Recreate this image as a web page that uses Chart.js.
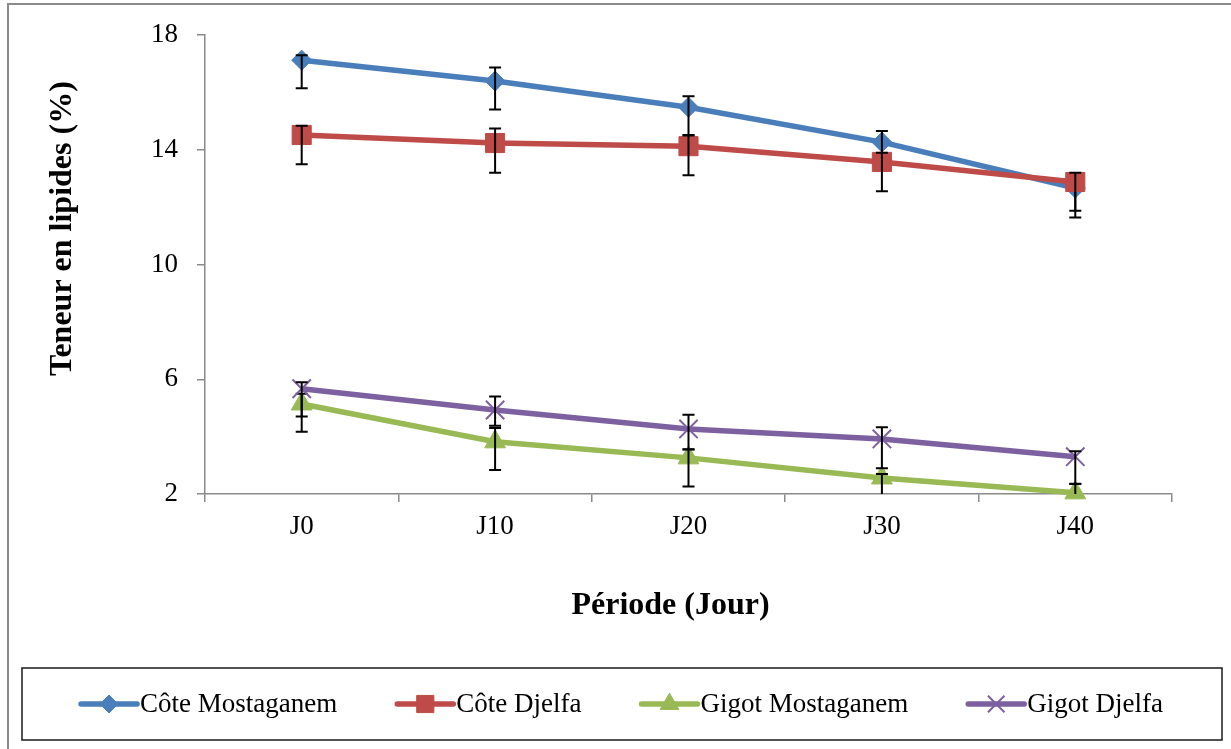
<!DOCTYPE html>
<html>
<head>
<meta charset="utf-8">
<script src="https://cdn.jsdelivr.net/npm/chart.js@4/dist/chart.umd.min.js"></script>
<style>
  html, body { margin: 0; padding: 0; background: #fff; }
  #wrap { width: 1231px; height: 749px; position: relative; }
</style>
</head>
<body>
<div id="wrap"><canvas id="lipidChart"></canvas></div>
<script>
// valeurs
const categories = ['J0', 'J10', 'J20', 'J30', 'J40'];
const yTickValues = [2, 6, 10, 14, 18];
const xTitle = 'Période (Jour)';
const yTitle = 'Teneur en lipides (%)';

const coteMostaganem     = [17.13, 16.40, 15.49, 14.27, 12.67];
const coteMostaganemHigh = [17.30, 16.87, 15.87, 14.66, 13.00];
const coteMostaganemLow  = [16.15, 15.41, 14.52, 13.60, 11.64];

const coteDjelfa     = [14.52, 14.24, 14.13, 13.58, 12.88];
const coteDjelfaHigh = [14.84, 14.75, 14.50, 13.90, 13.20];
const coteDjelfaLow  = [13.50, 13.20, 13.12, 12.56, 11.88];

const gigotMostaganem     = [5.14, 3.82, 3.26, 2.56, 2.04];
const gigotMostaganemHigh = [5.50, 4.30, 3.55, 2.70, 2.35];
const gigotMostaganemLow  = [4.17, 2.84, 2.26, 1.56, 1.04];

const gigotDjelfa     = [5.67, 4.93, 4.27, 3.92, 3.30];
const gigotDjelfaHigh = [5.90, 5.40, 4.76, 4.33, 3.49];
const gigotDjelfaLow  = [4.70, 4.38, 3.56, 2.90, 2.36];

const serif = '"Liberation Serif", "Times New Roman", serif';

function serie(label, data, high, low, color, style, radius, order) {
    return {
        label: label,
        data: data,
        errHigh: high,
        errLow: low,
        borderColor: color,
        backgroundColor: color,
        borderWidth: 5.5,
        pointStyle: style,
        pointRadius: radius,
        pointHoverRadius: radius,
        pointBackgroundColor: color,
        pointBorderColor: color,
        pointBorderWidth: style === 'crossRot' ? 2 : 1,
        tension: 0,
        clip: false,
        order: order,
    };
}

// barres d'erreur, dessinées juste après chaque série
const errorBars = {
    id: 'errorBars',
    afterDatasetDraw(chart, args) {
        const ds = chart.data.datasets[args.index];
        const y = chart.scales.y;
        const ctx = chart.ctx;
        const a = chart.chartArea;
        ctx.save();
        ctx.beginPath();
        ctx.rect(a.left, a.top - 20, a.right - a.left, a.bottom - a.top + 20);
        ctx.clip();
        ctx.strokeStyle = '#000';
        ctx.lineWidth = 2;
        args.meta.data.forEach((pt, i) => {
            const yh = y.getPixelForValue(ds.errHigh[i]);
            const yl = y.getPixelForValue(ds.errLow[i]);
            ctx.beginPath();
            ctx.moveTo(pt.x, yh); ctx.lineTo(pt.x, yl);
            ctx.moveTo(pt.x - 6, yh); ctx.lineTo(pt.x + 6, yh);
            ctx.moveTo(pt.x - 6, yl); ctx.lineTo(pt.x + 6, yl);
            ctx.stroke();
        });
        ctx.restore();
    }
};

// titres des axes, cadre extérieur et légende encadrée
const frameAndLegend = {
    id: 'frameAndLegend',
    afterDraw(chart) {
        const { ctx, width, height, chartArea } = chart;
        ctx.save();
        ctx.fillStyle = '#000';
        ctx.font = 'bold 32px ' + serif;
        ctx.textAlign = 'center';
        ctx.textBaseline = 'middle';
        ctx.fillText(xTitle, (chartArea.left + chartArea.right) / 2 - 18, chartArea.bottom + 112);
        ctx.save();
        ctx.translate(chartArea.left - 142, (chartArea.top + chartArea.bottom) / 2 - 36);
        ctx.rotate(-Math.PI / 2);
        ctx.fillText(yTitle, 0, 0);
        ctx.restore();

        ctx.strokeStyle = '#8a8a8a';
        ctx.lineWidth = 2;
        ctx.beginPath();
        ctx.moveTo(8, height); ctx.lineTo(8, 4); ctx.lineTo(width, 4);
        ctx.stroke();

        const left = 22, right = width - 9, top = height - 81, bottom = height - 9;
        ctx.strokeStyle = '#1a1a1a';
        ctx.lineWidth = 1.5;
        ctx.strokeRect(left, top, right - left, bottom - top);

        ctx.font = '27px ' + serif;
        const lineLen = 56, gapText = 3, gapItem = 60;
        const items = chart.data.datasets.map(ds => ({ ds: ds, w: ctx.measureText(ds.label).width }));
        const total = items.reduce((s, it) => s + lineLen + gapText + it.w, 0) + gapItem * (items.length - 1);
        let x = (left + right) / 2 - total / 2;
        const cy = (top + bottom) / 2;
        items.forEach(it => {
            const ds = it.ds;
            ctx.strokeStyle = ds.borderColor;
            ctx.lineWidth = 5.5;
            ctx.lineCap = 'round';
            ctx.beginPath();
            ctx.moveTo(x, cy); ctx.lineTo(x + lineLen, cy);
            ctx.stroke();
            ctx.lineCap = 'butt';
            ctx.fillStyle = ds.pointBackgroundColor;
            ctx.strokeStyle = ds.pointBorderColor;
            ctx.lineWidth = ds.pointBorderWidth;
            Chart.helpers.drawPoint(ctx, {
                pointStyle: ds.pointStyle,
                radius: ds.pointRadius * 0.9,
                borderWidth: ds.pointBorderWidth,
                rotation: 0
            }, x + lineLen / 2, cy);
            ctx.fillStyle = '#000';
            ctx.textAlign = 'left';
            ctx.textBaseline = 'middle';
            ctx.fillText(ds.label, x + lineLen + gapText, cy + 1);
            x += lineLen + gapText + it.w + gapItem;
        });
        ctx.restore();
    }
};

const ctx = document.getElementById('lipidChart').getContext('2d');
new Chart(ctx, {
    type: 'line',
    data: {
        labels: categories,
        datasets: [
            serie('Côte Mostaganem', coteMostaganem, coteMostaganemHigh, coteMostaganemLow, '#4A7EBB', 'rectRot', 10, 4),
            serie('Côte Djelfa', coteDjelfa, coteDjelfaHigh, coteDjelfaLow, '#BE4B48', 'rect', 13.5, 3),
            serie('Gigot Mostaganem', gigotMostaganem, gigotMostaganemHigh, gigotMostaganemLow, '#98B954', 'triangle', 12, 2),
            serie('Gigot Djelfa', gigotDjelfa, gigotDjelfaHigh, gigotDjelfaLow, '#7D60A0', 'crossRot', 13, 1),
        ],
    },
    options: {
        responsive: true,
        maintainAspectRatio: false,
        animation: false,
        layout: { padding: { left: 0, top: 35, right: 59, bottom: 110 } },
        plugins: {
            legend: { display: false },
            tooltip: { enabled: false },
        },
        scales: {
            x: {
                offset: true,
                grid: { offset: true, drawOnChartArea: false, drawTicks: true, tickLength: 8, color: '#8a8a8a', lineWidth: 1.5 },
                border: { color: '#8a8a8a', width: 1.5 },
                ticks: { color: '#000', padding: 9, font: { family: serif, size: 27 } },
                afterFit: s => { s.height = 145; },
            },
            y: {
                min: 2,
                max: 18,
                afterBuildTicks: s => { s.ticks = yTickValues.map(v => ({ value: v })); },
                grid: { drawOnChartArea: false, drawTicks: true, tickLength: 8, color: '#8a8a8a', lineWidth: 1.5 },
                border: { color: '#8a8a8a', width: 1.5 },
                ticks: { color: '#000', padding: 19, font: { family: serif, size: 27 } },
                afterFit: s => { s.width = 205; },
            },
        },
    },
    plugins: [errorBars, frameAndLegend],
});
</script>
</body>
</html>
